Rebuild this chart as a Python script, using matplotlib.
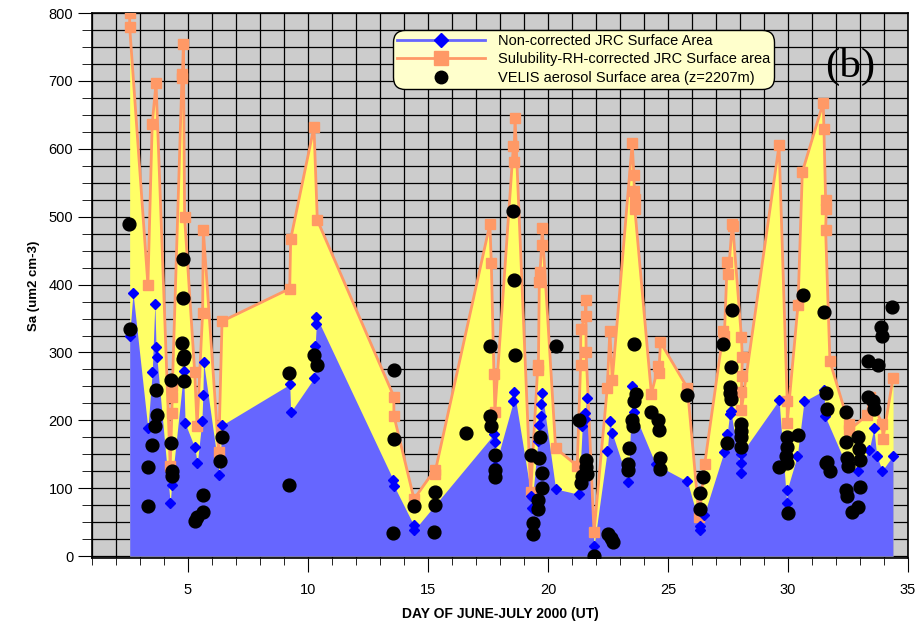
"""Surface area comparison: JRC (raw and RH-corrected) vs VELIS aerosol"""

import matplotlib.pyplot as plt
from matplotlib.lines import Line2D
from matplotlib.ticker import MultipleLocator

plt.rcParams['font.family'] = ['Liberation Sans', 'DejaVu Sans']

# Non-corrected JRC surface area (blue)
raw_x = [2.57, 2.71, 3.33, 3.51, 3.62, 3.67, 3.70, 4.26, 4.32, 4.82, 4.88,
         5.28, 5.39, 5.58, 5.62, 5.65, 6.31, 6.42, 9.24, 9.28, 10.25, 10.30,
         10.35, 10.35, 13.56, 13.58, 14.40, 14.42, 17.76, 17.78, 17.80, 18.56,
         18.60, 19.30, 19.32, 19.58, 19.62, 19.69, 19.72, 19.76, 20.32, 21.29,
         21.43, 21.54, 21.56, 21.61, 21.92, 22.47, 22.58, 22.68, 23.35, 23.51,
         23.58, 24.49, 25.81, 26.33, 26.35, 26.50, 27.33, 27.47, 27.57, 27.62,
         28.03, 28.05, 28.06, 29.63, 29.95, 29.97, 30.39, 30.67, 31.50, 31.55,
         32.47, 32.90, 33.38, 33.58, 33.70, 33.93, 34.38]
raw_y = [325, 388, 188, 271, 372, 308, 294, 78, 105, 272, 196,
         160, 137, 199, 237, 286, 120, 193, 253, 212, 262, 310,
         342, 353, 112, 104, 46, 38, 180, 168, 132, 228,
         242, 89, 71, 169, 193, 207, 224, 241, 99, 91,
         191, 202, 211, 233, 15, 155, 199, 181, 109, 251,
         212, 135, 110, 45, 38, 60, 153, 180, 210, 214,
         123, 137, 151, 230, 78, 98, 148, 228, 244, 206,
         131, 126, 156, 188, 148, 126, 148]

# Solubility-RH-corrected JRC surface area (orange)
corr_x = [2.57, 2.57, 3.33, 3.51, 3.67, 4.26, 4.33, 4.34, 4.35, 4.75, 4.77,
          4.81, 4.86, 5.28, 5.38, 5.61, 5.64, 6.28, 6.42, 9.24, 9.28, 10.25,
          10.39, 13.58, 13.58, 14.42, 15.28, 15.28, 17.58, 17.64, 17.75, 17.79,
          18.56, 18.58, 18.63, 19.28, 19.58, 19.60, 19.64, 19.67, 19.74, 19.76,
          20.32, 21.22, 21.36, 21.37, 21.57, 21.58, 21.59, 21.92, 22.47, 22.58,
          22.68, 23.51, 23.58, 23.60, 23.61, 23.62, 24.31, 24.60, 24.62, 24.69,
          25.81, 26.30, 26.53, 27.31, 27.35, 27.47, 27.52, 27.68, 27.70, 28.06,
          28.10, 28.08, 28.06, 28.06, 29.63, 29.97, 29.97, 30.42, 30.60, 31.47,
          31.50, 31.57, 31.60, 31.57, 31.75, 32.54, 32.56, 33.31, 33.40, 33.93,
          33.96, 34.38]
corr_y = [800, 780, 400, 637, 697, 132, 211, 234, 250, 705, 711,
          754, 499, 271, 191, 358, 480, 153, 346, 394, 467, 632,
          495, 235, 207, 84, 127, 121, 489, 432, 268, 213,
          604, 580, 645, 94, 282, 274, 404, 419, 459, 484,
          159, 133, 282, 335, 354, 378, 301, 35, 247, 332,
          259, 608, 562, 538, 526, 512, 239, 280, 270, 315,
          248, 57, 135, 331, 324, 433, 416, 490, 487, 323,
          293, 266, 242, 215, 605, 228, 196, 370, 566, 668,
          629, 525, 511, 481, 287, 194, 186, 208, 234, 195,
          173, 263]

# VELIS aerosol surface area (black dots)
velis_x = [2.56, 2.57, 3.33, 3.33, 3.51, 3.64, 3.71, 3.68, 4.29, 4.29, 4.32,
           4.35, 4.79, 4.79, 4.76, 4.82, 4.78, 4.83, 5.31, 5.38, 5.63, 5.63,
           6.43, 6.32, 9.22, 9.22, 10.25, 10.39, 13.58, 13.60, 13.56, 14.42,
           15.28, 15.28, 15.25, 16.60, 17.58, 17.58, 17.64, 17.80, 17.78, 17.78,
           18.56, 18.58, 18.63, 19.28, 19.36, 19.36, 19.58, 19.58, 19.67, 19.64,
           19.74, 19.74, 20.32, 21.29, 21.43, 21.36, 21.57, 21.60, 21.64, 21.92,
           22.61, 22.51, 22.69, 23.58, 23.65, 23.58, 23.51, 23.55, 23.38, 23.33,
           23.33, 24.31, 24.60, 24.63, 24.69, 24.67, 25.81, 26.47, 26.33, 26.33,
           27.31, 27.68, 27.64, 27.58, 27.58, 27.61, 27.47, 28.06, 28.06, 28.06,
           28.03, 29.63, 29.97, 29.97, 29.93, 29.97, 29.99, 30.43, 30.63, 31.50,
           31.57, 31.61, 31.57, 31.75, 31.64, 32.44, 32.40, 32.47, 32.50, 32.40,
           32.47, 32.69, 32.90, 32.92, 32.96, 32.99, 32.99, 33.35, 33.76, 33.35,
           33.56, 33.58, 33.89, 33.90, 34.35]
velis_y = [490, 335, 74, 131, 163, 191, 208, 245, 260, 167, 126,
           118, 438, 381, 314, 295, 290, 258, 51, 58, 65, 90,
           175, 140, 270, 105, 297, 281, 274, 172, 34, 74,
           94, 75, 36, 181, 309, 206, 192, 149, 127, 116,
           508, 407, 297, 149, 49, 32, 83, 70, 175, 144,
           122, 100, 309, 200, 118, 108, 142, 131, 121, 0,
           27, 32, 21, 312, 239, 229, 201, 191, 159, 136,
           127, 212, 201, 186, 144, 129, 237, 117, 93, 70,
           313, 362, 279, 249, 240, 231, 167, 194, 185, 175,
           161, 131, 175, 161, 148, 137, 64, 179, 384, 359,
           240, 216, 137, 126, 139, 213, 168, 144, 133, 97,
           89, 65, 73, 176, 158, 102, 141, 287, 282, 235,
           228, 216, 337, 324, 367]

fig = plt.figure(figsize=(9.17, 6.25), dpi=100)
ax = fig.add_axes([0.1003, 0.107, 0.8898, 0.872])
ax.set_facecolor('#cccccc')

# areas: yellow under the corrected curve, blue under the raw one
ax.fill_between(corr_x, corr_y, 0, color='#ffff66', lw=0, zorder=2)
ax.fill_between(raw_x, raw_y, 0, color='#6666ff', lw=0, zorder=3)
ax.plot(corr_x, corr_y, color='#ff9966', lw=2, marker='s', ms=7.5,
        zorder=4)
ax.plot(raw_x, raw_y, ls='none', marker='D', ms=5, color='#0000ff',
        zorder=5)
ax.scatter(velis_x, velis_y, s=85, color='black', zorder=6)

ax.set_xlim(1, 35)
ax.set_ylim(-3, 800)
ax.xaxis.set_major_locator(MultipleLocator(5))
ax.xaxis.set_minor_locator(MultipleLocator(1))
ax.yaxis.set_major_locator(MultipleLocator(100))
ax.yaxis.set_minor_locator(MultipleLocator(25))
ax.grid(which='both', color='black', lw=0.9)
ax.set_axisbelow(True)
ax.tick_params(axis='x', which='major', length=10, pad=8, labelsize=10.5)
ax.tick_params(axis='x', which='minor', length=5)
ax.tick_params(axis='y', which='major', length=10, labelsize=10.5)
ax.tick_params(axis='y', which='minor', length=7)
for s in ax.spines.values():
    s.set_linewidth(1.2)

ax.set_xlabel('DAY OF JUNE-JULY 2000 (UT)', fontsize=10, fontweight='bold',
              labelpad=7)
ax.set_ylabel('Sa (um2 cm-3)', fontsize=9.5, fontweight='bold', labelpad=6)

ax.text(0.929, 0.903, '(b)', transform=ax.transAxes, fontsize=31,
        family=['Liberation Serif', 'DejaVu Serif'], ha='center',
        va='center', zorder=7)

handles = [
    Line2D([], [], color='#6666ff', lw=2, marker='D', ms=7,
           markerfacecolor='#0000ff', markeredgecolor='#0000ff'),
    Line2D([], [], color='#ff9966', lw=2, marker='s', ms=10),
    Line2D([], [], ls='none', marker='o', ms=9, color='black'),
]
labels = ['Non-corrected JRC Surface Area',
          'Sulubility-RH-corrected JRC Surface area',
          'VELIS aerosol Surface area (z=2207m)']
leg = ax.legend(handles, labels, loc='upper left',
                bbox_to_anchor=(0.369, 0.969), borderaxespad=0,
                fontsize=10.5, handlelength=6, handletextpad=0.9,
                labelspacing=0.3, borderpad=0.28, fancybox=True,
                framealpha=1, facecolor='#ffffcc', edgecolor='black')
leg.get_frame().set_linewidth(1)
leg.get_frame().set_boxstyle('round,pad=0,rounding_size=0.8')
leg.set_zorder(8)

plt.savefig('out.png', dpi=100)
